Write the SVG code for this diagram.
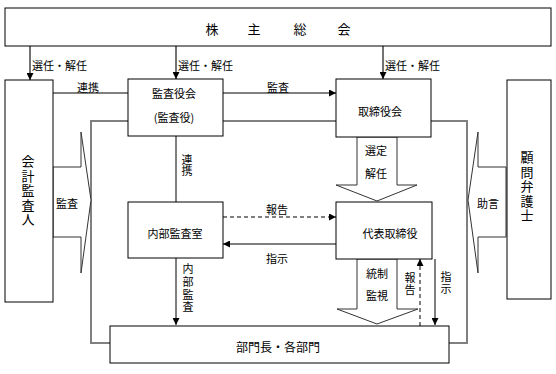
<svg xmlns="http://www.w3.org/2000/svg" width="556" height="374" viewBox="0 0 556 374">
<defs>
<style>
.box{fill:#fff;stroke:#000;stroke-width:1}
.t{font-family:"Noto Sans CJK JP","Noto Sans CJK SC",sans-serif;font-size:11px;fill:#000;text-anchor:middle;dominant-baseline:central}
.s{text-anchor:start}
.v{writing-mode:vertical-rl}
.tb{font-size:13px}
.ln{stroke:#000;stroke-width:1;fill:none}
.gl{stroke:#808080;stroke-width:2;fill:none}
.dl{stroke:#000;stroke-width:1;fill:none;stroke-dasharray:4 3}
.blk{fill:#fff;stroke:#333;stroke-width:1}
.top{stroke:#444;stroke-width:1.5}
</style>
<marker id="ah" viewBox="0 0 10 10" refX="10" refY="5" markerWidth="7" markerHeight="7" orient="auto" markerUnits="userSpaceOnUse">
<path d="M0,0 L10,5 L0,10 z" fill="#000"/>
</marker>
</defs>
<rect width="556" height="374" fill="#fff"/>

<g id="connectors">
<path class="gl" d="M110,343 H91 V121 H467 V343 H449"/>
<line class="top" x1="30" y1="46" x2="30" y2="80" marker-end="url(#ah)"/>
<line class="top" x1="176" y1="46" x2="176" y2="79" marker-end="url(#ah)"/>
<line class="top" x1="383" y1="46" x2="383" y2="79" marker-end="url(#ah)"/>
<line class="ln" x1="53" y1="93" x2="128" y2="93"/>
<line class="ln" x1="223" y1="93" x2="336" y2="93" marker-end="url(#ah)"/>
<line x1="176" y1="136" x2="176" y2="202" stroke="#808080" stroke-width="2"/>
<line class="dl" x1="223" y1="217" x2="336" y2="217" marker-end="url(#ah)"/>
<line class="ln" x1="336" y1="244" x2="223" y2="244" marker-end="url(#ah)"/>
<line class="ln" x1="176" y1="258" x2="176" y2="325" marker-end="url(#ah)"/>
<line class="dl" x1="420" y1="326" x2="420" y2="259" marker-end="url(#ah)"/>
<line class="ln" x1="435" y1="259" x2="435" y2="325" marker-end="url(#ah)"/>
<path class="blk" d="M53,167 H81 V132 L91,200 L81,273 V237 H53 Z"/>
<path class="blk" d="M506,167 H478 V132 L468,200 L478,273 V237 H506 Z"/>
<path class="blk" d="M357,137 H397 V185 H417 L377,201 L336,185 H357 Z"/>
<path class="blk" d="M357,259 H397 V309 H418 L377,324 L337,309 H357 Z"/>
<text class="t s" x="32" y="65">選任・解任</text>
<text class="t s" x="178" y="65">選任・解任</text>
<text class="t s" x="385" y="65">選任・解任</text>
<text class="t" x="88" y="87">連携</text>
<text class="t" x="278" y="87">監査</text>
<text class="t v" x="187" y="165">連携</text>
<text class="t" x="277" y="209">報告</text>
<text class="t" x="277" y="258">指示</text>
<text class="t v" x="188" y="289" style="letter-spacing:1.7px">内部監査</text>
<text class="t" x="376" y="150">選定</text>
<text class="t" x="376" y="173">解任</text>
<text class="t" x="377" y="273">統制</text>
<text class="t" x="377" y="295">監視</text>
<text class="t v" x="410" y="284" style="letter-spacing:1px">報告</text>
<text class="t v" x="446" y="283" style="letter-spacing:1px">指示</text>
<text class="t" x="67" y="203">監査</text>
<text class="t" x="488" y="203">助言</text>
</g>

<g id="shareholders">
<rect class="box" x="5" y="8" width="546" height="38"/>
<text class="t tb" x="212 254 300 344" y="28">株主総会</text>
</g>
<g id="auditor">
<rect class="box" x="5" y="80" width="48" height="222"/>
<text class="t tb v" x="28" y="191" style="letter-spacing:1.5px">会計監査人</text>
</g>
<g id="lawyer">
<rect class="box" x="507" y="80" width="44" height="219"/>
<text class="t tb v" x="527" y="187" style="letter-spacing:1.5px">顧問弁護士</text>
</g>
<g id="audit-board">
<rect class="box" x="128" y="79" width="95" height="57"/>
<text class="t" x="174" y="93">監査役会</text>
<text class="t" x="174" y="117">(監査役)</text>
</g>
<g id="board">
<rect class="box" x="336" y="79" width="95" height="58"/>
<text class="t" x="380" y="111">取締役会</text>
</g>
<g id="internal-audit">
<rect class="box" x="128" y="202" width="95" height="56"/>
<text class="t" x="175" y="233">内部監査室</text>
</g>
<g id="ceo">
<rect class="box" x="336" y="202" width="96" height="57"/>
<text class="t" x="390" y="233">代表取締役</text>
</g>
<g id="departments">
<rect class="box" x="110" y="326" width="339" height="37"/>
<text class="t" x="278" y="346" style="font-size:12px">部門長・各部門</text>
</g>
</svg>
